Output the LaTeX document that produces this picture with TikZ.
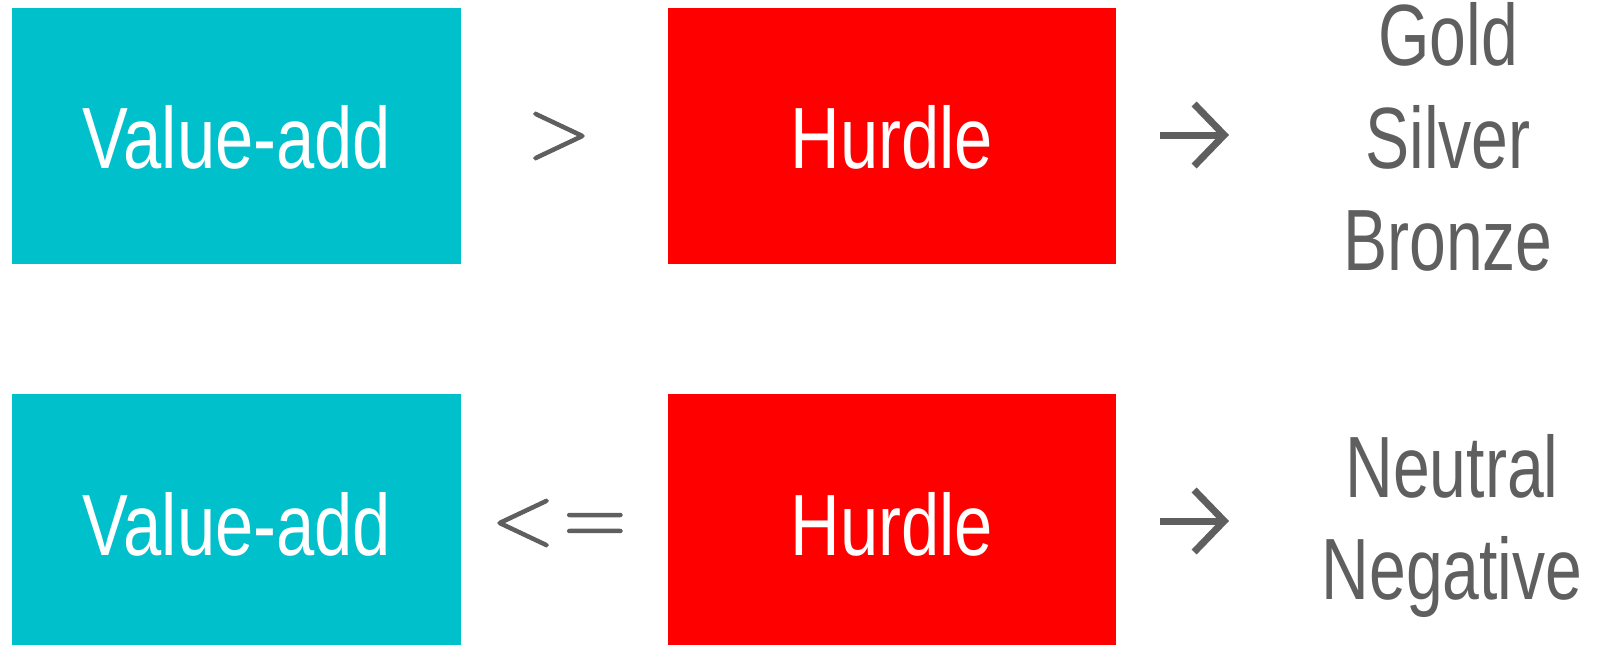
\documentclass[tikz,border=0pt]{standalone}
\usepackage{fontspec}
\setmainfont{Liberation Sans}[FakeStretch=0.76]
\newfontfamily\wfont{Liberation Sans}[FakeStretch=0.79]
\newfontfamily\symfont{lmroman10-regular.otf}[FakeBold=1.5]
\usetikzlibrary{arrows.meta}
\definecolor{vcyan}{RGB}{0,192,203}
\definecolor{hred}{RGB}{255,0,0}
\definecolor{tgray}{RGB}{95,95,95}
\tikzset{
  valbox/.style={fill=vcyan, draw=none},
  hurbox/.style={fill=hred, draw=none},
  bigtxt/.style={font=\fontsize{87}{102.5}\selectfont, inner sep=0pt, outer sep=0pt},
  wtxt/.style={font=\wfont\fontsize{87}{102.5}\selectfont, inner sep=0pt, outer sep=0pt, text=white, anchor=base},
  gtxt/.style={bigtxt, text=tgray, align=center},
  relsym/.style={font=\symfont\fontsize{82}{100}\selectfont, inner sep=0pt, outer sep=0pt, text=tgray},
  resarr/.style={draw=tgray, line width=7pt, -{Straight Barb[length=30pt,width=62pt]}}
}
\begin{document}
\begin{tikzpicture}[x=1pt,y=-1pt]
\useasboundingbox (0,0) rectangle (1598,645);
% row 1
\path[valbox] (12,8) rectangle (461,264);
\path[hurbox] (668,8) rectangle (1116,264);
\node[wtxt] (v1) at (237,168) {Value-add};
\node[wtxt] (h1) at (892,168) {Hurdle};
\node[relsym] (gt) at (559,136) {>};
\coordinate (h1e) at (1116,135);
\draw[resarr] ([xshift=44pt]h1e) -- ([xshift=113pt]h1e);
\node[gtxt] (r1) at (1448,137) {Gold\\Silver\\Bronze};
% row 2
\path[valbox] (12,394) rectangle (461,645);
\path[hurbox] (668,394) rectangle (1116,645);
\node[wtxt] (v2) at (237,555) {Value-add};
\node[wtxt] (h2) at (892,555) {Hurdle};
\node[relsym] (le) at (559,523) {<\hspace{8pt}=};
\coordinate (h2e) at (1116,521);
\draw[resarr] ([xshift=44pt]h2e) -- ([xshift=113pt]h2e);
\node[gtxt] (r2) at (1452,526) {Neutral\\Negative};
\end{tikzpicture}
\end{document}
